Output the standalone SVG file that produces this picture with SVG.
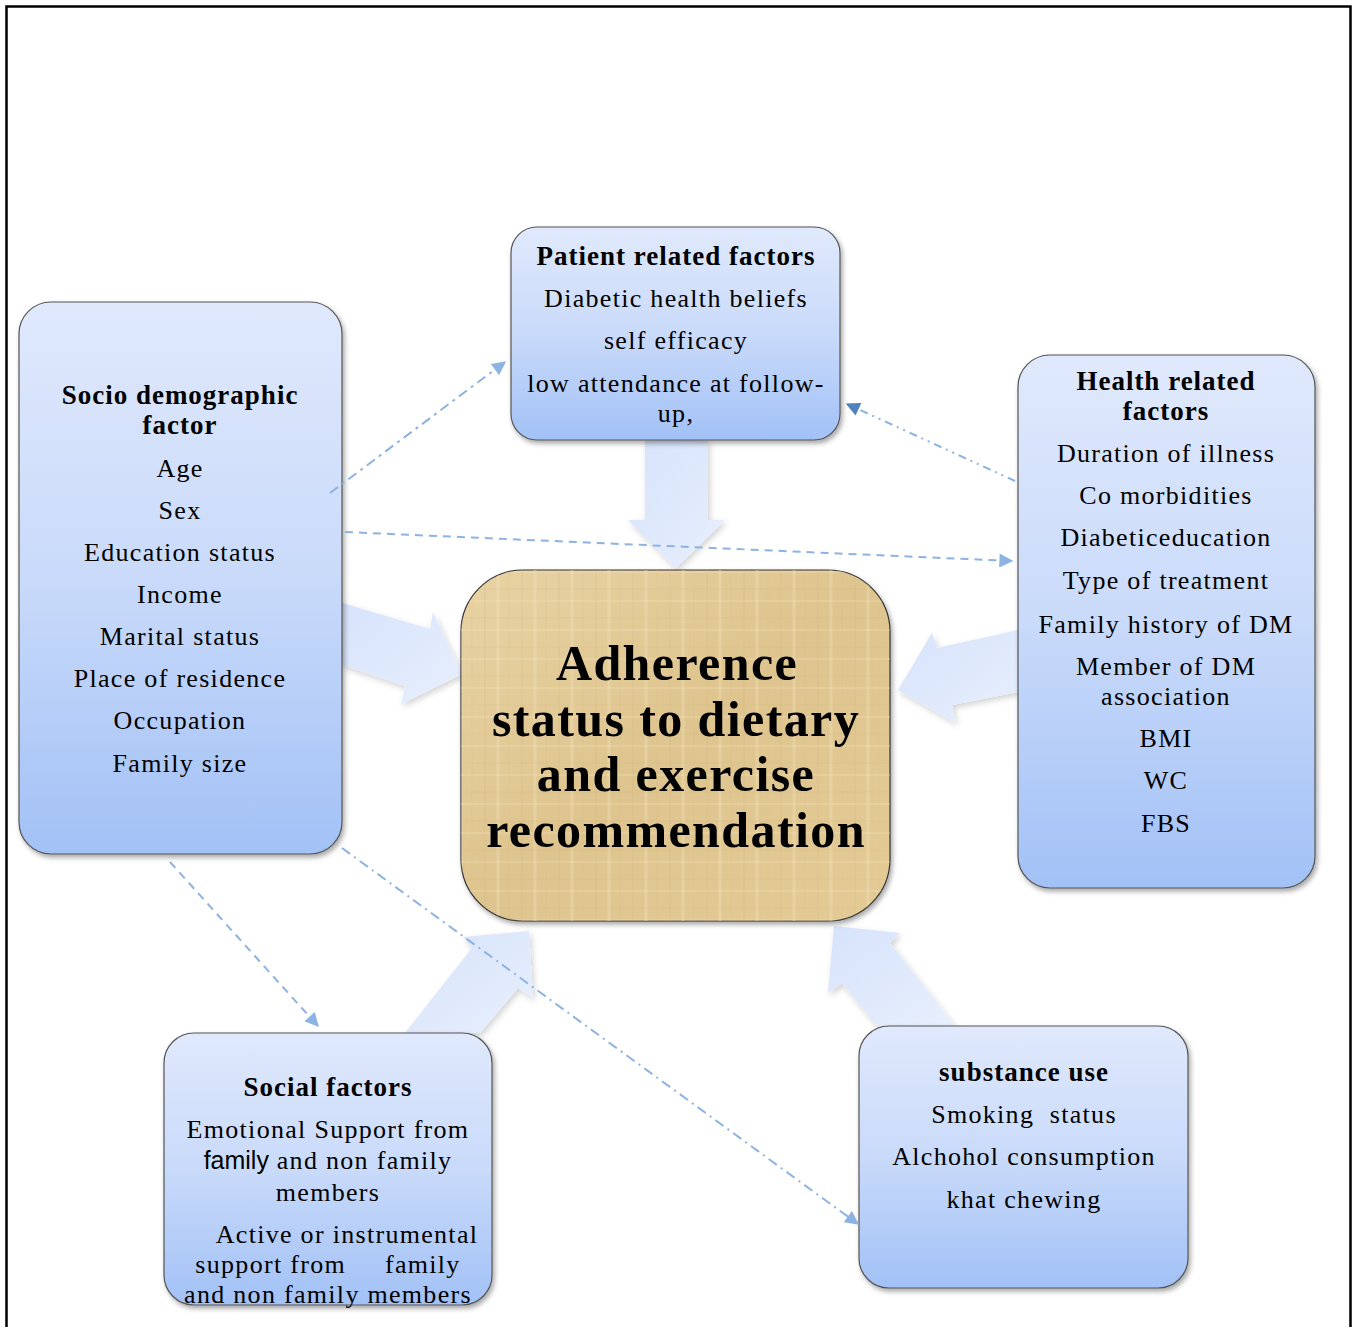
<svg xmlns="http://www.w3.org/2000/svg" width="1354" height="1327" viewBox="0 0 1354 1327">
<style>
.box{stroke:#555;stroke-width:1.2;fill:url(#blueGrad);filter:url(#shadow)}
.t{font-family:"Liberation Serif","Times New Roman",serif;font-size:26px;fill:#000;text-anchor:middle;letter-spacing:1.3px}
.b{font-weight:bold;font-size:27px;letter-spacing:1px}
.s{font-family:"Liberation Sans",Arial,sans-serif;letter-spacing:0;font-size:25px}
.c{font-family:"Liberation Serif","Times New Roman",serif;font-weight:bold;font-size:50px;fill:#000;text-anchor:middle;letter-spacing:1.4px}
.big{fill:url(#arrowGrad);filter:url(#ashadow)}
.dash{fill:none;stroke:#8db3e2;stroke-width:2}
</style>
<defs>
<linearGradient id="blueGrad" x1="0" y1="0" x2="0" y2="1">
<stop offset="0" stop-color="#e0e9fc"/>
<stop offset="0.5" stop-color="#c9dafa"/>
<stop offset="1" stop-color="#a2c1f6"/>
</linearGradient>
<linearGradient id="arrowGrad" x1="0" y1="0" x2="1" y2="1">
<stop offset="0" stop-color="#d6e3fb"/>
<stop offset="1" stop-color="#e8effd"/>
</linearGradient>
<linearGradient id="tan" x1="0" y1="0" x2="1" y2="1">
<stop offset="0" stop-color="#e8d3a4"/>
<stop offset="0.5" stop-color="#dec48e"/>
<stop offset="1" stop-color="#e4cb96"/>
</linearGradient>
<pattern id="papyrus" width="37" height="29" patternUnits="userSpaceOnUse">
<line x1="4" y1="0" x2="4" y2="29" stroke="#c9a968" stroke-width="1.2" opacity="0.22"/>
<line x1="17" y1="0" x2="17" y2="29" stroke="#f3e2bb" stroke-width="3" opacity="0.35"/>
<line x1="28" y1="0" x2="28" y2="29" stroke="#cfae6e" stroke-width="1" opacity="0.18"/>
<line x1="0" y1="9" x2="37" y2="9" stroke="#c7a566" stroke-width="1" opacity="0.18"/>
<line x1="0" y1="21" x2="37" y2="21" stroke="#f2e0b8" stroke-width="2" opacity="0.28"/>
</pattern>
<filter id="shadow" x="-10%" y="-10%" width="120%" height="120%">
<feDropShadow dx="2" dy="3" stdDeviation="2.5" flood-color="#000" flood-opacity="0.35"/>
</filter>
<filter id="ashadow" x="-20%" y="-20%" width="140%" height="140%">
<feDropShadow dx="2" dy="3" stdDeviation="3" flood-color="#000" flood-opacity="0.18"/>
</filter>
<marker id="ah" viewBox="0 0 10 10" refX="9" refY="5" markerWidth="15" markerHeight="14" markerUnits="userSpaceOnUse" orient="auto">
<path d="M0,0 L10,5 L0,10 Z" fill="#8db3e2"/>
</marker>
<marker id="ahd" viewBox="0 0 10 10" refX="9" refY="5" markerWidth="15" markerHeight="14" markerUnits="userSpaceOnUse" orient="auto">
<path d="M0,0 L10,5 L0,10 Z" fill="#4f81bd"/>
</marker>
</defs>
<rect x="0" y="0" width="1354" height="1327" fill="#fff"/>
<path d="M6.5,1327 V6.5 H1350.5 V1327" fill="none" stroke="#000" stroke-width="2.5"/>

<g id="bigArrows">
<polygon class="big" points="645,440 708,440 708,520 725,520 676,568 628,520 645,520"/>
<polygon class="big" points="342,603 430,629 433,612 462,674 401,704 405,686 342,665"/>
<polygon class="big" points="1018,630 937,648 932,633 898,690 956,723 952,705 1018,692"/>
<polygon class="big" points="405,1033 472,948 463,937 529,931 533,998 518,988 480,1033"/>
<polygon class="big" points="877,1026 842,983 828,993 834,926 900,933 890,943 955,1026"/>
</g>

<g id="socio">
<rect class="box" x="19" y="302" width="323" height="552" rx="32"/>
<text class="t b" x="180" y="404">Socio demographic</text>
<text class="t b" x="180" y="434">factor</text>
<text class="t" x="180" y="477">Age</text>
<text class="t" x="180" y="519">Sex</text>
<text class="t" x="180" y="561">Education status</text>
<text class="t" x="180" y="603">Income</text>
<text class="t" x="180" y="645">Marital status</text>
<text class="t" x="180" y="687">Place of residence</text>
<text class="t" x="180" y="729">Occupation</text>
<text class="t" x="180" y="772">Family size</text>
</g>

<g id="patient">
<rect class="box" x="511" y="227" width="329" height="213" rx="26"/>
<text class="t b" x="676" y="265">Patient related factors</text>
<text class="t" x="676" y="307">Diabetic health beliefs</text>
<text class="t" x="676" y="349">self efficacy</text>
<text class="t" x="676" y="392">low attendance at follow-</text>
<text class="t" x="676" y="422">up,</text>
</g>

<g id="health">
<rect class="box" x="1018" y="355" width="297" height="533" rx="32"/>
<text class="t b" x="1166" y="390">Health related</text>
<text class="t b" x="1166" y="420">factors</text>
<text class="t" x="1166" y="462">Duration of illness</text>
<text class="t" x="1166" y="504">Co morbidities</text>
<text class="t" x="1166" y="546">Diabeticeducation</text>
<text class="t" x="1166" y="589">Type of treatment</text>
<text class="t" x="1166" y="633">Family history of DM</text>
<text class="t" x="1166" y="675">Member of DM</text>
<text class="t" x="1166" y="705">association</text>
<text class="t" x="1166" y="747">BMI</text>
<text class="t" x="1166" y="789">WC</text>
<text class="t" x="1166" y="832">FBS</text>
</g>

<g id="center">
<rect x="461" y="570" width="429" height="351" rx="62" fill="url(#tan)" stroke="#333" stroke-width="1.2" filter="url(#shadow)"/>
<rect x="461" y="570" width="429" height="351" rx="62" fill="url(#papyrus)"/>
<text class="c" x="677" y="680">Adherence</text>
<text class="c" x="676" y="736">status to dietary</text>
<text class="c" x="676" y="791">and exercise</text>
<text class="c" x="676" y="847">recommendation</text>
</g>

<g id="social">
<rect class="box" x="164" y="1033" width="328" height="272" rx="30"/>
<text class="t b" x="328" y="1096">Social factors</text>
<text class="t" x="328" y="1138">Emotional Support from</text>
<text class="t" x="328" y="1169"><tspan class="s">family</tspan> and non family</text>
<text class="t" x="328" y="1201">members</text>
<text class="t" x="347" y="1243">Active or instrumental</text>
<text class="t" x="328" y="1273" xml:space="preserve">support from     family</text>
<text class="t" x="328" y="1303">and non family members</text>
</g>

<g id="substance">
<rect class="box" x="859" y="1026" width="329" height="262" rx="30"/>
<text class="t b" x="1024" y="1081">substance use</text>
<text class="t" x="1024" y="1123" xml:space="preserve">Smoking  status</text>
<text class="t" x="1024" y="1165">Alchohol consumption</text>
<text class="t" x="1024" y="1208">khat chewing</text>
</g>

<g id="connectors">
<line class="dash" x1="330" y1="493" x2="505" y2="362" stroke-dasharray="10,5,3,5" marker-end="url(#ah)"/>
<line class="dash" x1="345" y1="532" x2="1012" y2="561" stroke-dasharray="8,6" marker-end="url(#ah)"/>
<line class="dash" x1="1015" y1="481" x2="847" y2="404" stroke="#4f81bd" stroke-dasharray="8,5,2,5,2,5" marker-end="url(#ahd)"/>
<line class="dash" x1="170" y1="862" x2="318" y2="1026" stroke-dasharray="8,6" marker-end="url(#ah)"/>
<line class="dash" x1="342" y1="848" x2="858" y2="1224" stroke-dasharray="10,5,2,5" marker-end="url(#ah)"/>
</g>
</svg>
